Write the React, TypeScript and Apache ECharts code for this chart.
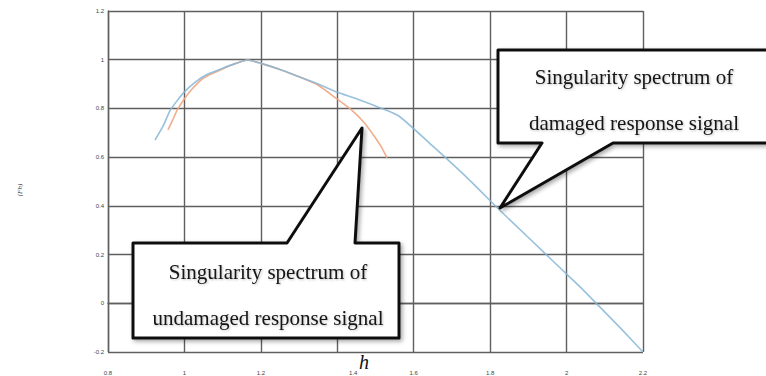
import React, { useEffect, useRef } from 'react';
import * as echarts from 'echarts';

// Singularity spectrum of damaged response signal (blue)
const damagedH = [0.923, 0.945, 0.962, 0.98, 1.0, 1.03, 1.06, 1.1, 1.135, 1.165, 1.2, 1.25, 1.3, 1.35, 1.4, 1.45, 1.5, 1.56, 1.65, 1.74, 1.82, 1.9, 1.98, 2.04, 2.09, 2.14, 2.2];
const damagedF = [0.67, 0.73, 0.79, 0.83, 0.868, 0.91, 0.94, 0.965, 0.985, 0.999, 0.985, 0.96, 0.93, 0.9, 0.866, 0.84, 0.81, 0.77, 0.645, 0.515, 0.39, 0.27, 0.15, 0.06, -0.02, -0.1, -0.2];

// Singularity spectrum of undamaged response signal (orange)
const undamagedH = [0.957, 0.97, 0.98, 1.0, 1.02, 1.05, 1.1, 1.135, 1.165, 1.2, 1.25, 1.3, 1.35, 1.4, 1.44, 1.47, 1.495, 1.516, 1.53];
const undamagedF = [0.712, 0.755, 0.79, 0.84, 0.88, 0.925, 0.962, 0.985, 0.999, 0.985, 0.96, 0.93, 0.895, 0.838, 0.79, 0.742, 0.69, 0.64, 0.597];

const xMin = 0.8;
const xMax = 2.2;
const yMin = -0.2;
const yMax = 1.2;
const tickStep = 0.2;

const xAxisTitle = 'h';
const yAxisTitle = '(Fh)';
const calloutDamaged = ['Singularity spectrum of', 'damaged response signal'];
const calloutUndamaged = ['Singularity spectrum of', 'undamaged response signal'];

const gridColor = '#5f5f5f';

export default function App() {
  const ref = useRef<HTMLDivElement>(null);
  useEffect(() => {
    if (!ref.current) return;
    const chart = echarts.init(ref.current, null, { renderer: 'svg' });
    const boxStyle = {
      fill: '#ffffff',
      stroke: '#111111',
      lineWidth: 3,
      lineJoin: 'round',
      shadowBlur: 4,
      shadowOffsetX: 2,
      shadowOffsetY: 2,
      shadowColor: 'rgba(0,0,0,0.35)',
    };
    const textStyleBase = {
      fontFamily: '"Liberation Serif", "Times New Roman", serif',
      fontSize: 21,
      lineHeight: 46,
      fill: '#141414',
      align: 'center',
      verticalAlign: 'middle',
      textShadowBlur: 2,
      textShadowColor: 'rgba(0,0,0,0.25)',
      textShadowOffsetX: 1,
      textShadowOffsetY: 1,
    };
    chart.setOption({
      animation: false,
      backgroundColor: '#ffffff',
      grid: { left: 108, right: 123, top: 11, bottom: 24, containLabel: false, outerBoundsMode: 'none' },
      xAxis: {
        type: 'value',
        min: xMin,
        max: xMax,
        interval: tickStep,
        axisLine: { show: true, lineStyle: { color: gridColor, width: 1.4 } },
        axisTick: { show: false },
        splitLine: { show: true, lineStyle: { color: gridColor, width: 1.4 } },
        axisLabel: {
          fontFamily: 'Arial, "Liberation Sans", sans-serif',
          fontSize: 6,
          color: '#444',
          margin: 18,
          formatter: (v: number) => (Math.abs(v - 1.4) < 1e-6 ? '{s|1.4}' : String(+v.toFixed(1))),
          rich: { s: { fontSize: 6, color: '#444', padding: [0, 0, 0, 32] } },
        },
      },
      yAxis: {
        type: 'value',
        min: yMin,
        max: yMax,
        interval: tickStep,
        axisLine: { show: true, lineStyle: { color: gridColor, width: 1.4 } },
        axisTick: { show: false },
        splitLine: { show: true, lineStyle: { color: gridColor, width: 1.4 } },
        axisLabel: {
          fontFamily: 'Arial, "Liberation Sans", sans-serif',
          fontSize: 6,
          color: '#444',
          margin: 4,
          formatter: (v: number) => String(+v.toFixed(1)),
        },
      },
      series: [
        {
          name: 'undamaged',
          type: 'line',
          data: undamagedH.map((h, i) => [h, undamagedF[i]]),
          showSymbol: false,
          smooth: 0.2,
          lineStyle: { color: '#eea57f', width: 1.6, opacity: 0.9 },
          z: 3,
        },
        {
          name: 'damaged',
          type: 'line',
          data: damagedH.map((h, i) => [h, damagedF[i]]),
          showSymbol: false,
          smooth: 0.2,
          lineStyle: { color: '#86b6d6', width: 1.6, opacity: 0.85 },
          z: 4,
        },
      ],
      graphic: [
        {
          type: 'text',
          x: 20,
          y: 190,
          rotation: Math.PI / 2,
          z: 100,
          style: {
            text: yAxisTitle,
            fontFamily: '"Liberation Serif", "Times New Roman", serif',
            fontStyle: 'italic',
            fontSize: 7,
            fill: '#333',
            align: 'center',
            verticalAlign: 'middle',
          },
        },
        {
          type: 'text',
          x: 364,
          y: 362,
          z: 100,
          style: {
            text: xAxisTitle,
            fontFamily: '"Liberation Serif", "Times New Roman", serif',
            fontStyle: 'italic',
            fontSize: 20,
            fill: '#111',
            align: 'center',
            verticalAlign: 'middle',
          },
        },
        {
          type: 'polygon',
          z: 100,
          shape: {
            points: [
              [498, 50],
              [772, 50],
              [772, 143],
              [613, 143],
              [500, 208],
              [542, 143],
              [498, 143],
            ],
          },
          style: boxStyle,
        },
        {
          type: 'text',
          x: 634,
          y: 100,
          z: 101,
          style: { ...textStyleBase, text: calloutDamaged.join('\n') },
        },
        {
          type: 'polygon',
          z: 100,
          shape: {
            points: [
              [133, 243],
              [287, 243],
              [362, 128],
              [355, 243],
              [399, 243],
              [399, 338],
              [133, 338],
            ],
          },
          style: boxStyle,
        },
        {
          type: 'text',
          x: 268,
          y: 295,
          z: 101,
          style: { ...textStyleBase, text: calloutUndamaged.join('\n') },
        },
      ],
    });
    return () => chart.dispose();
  }, []);
  return (
    <div
      ref={ref}
      style={{ position: 'fixed', left: 0, top: 0, width: 766, height: 376, background: '#fff' }}
    />
  );
}
